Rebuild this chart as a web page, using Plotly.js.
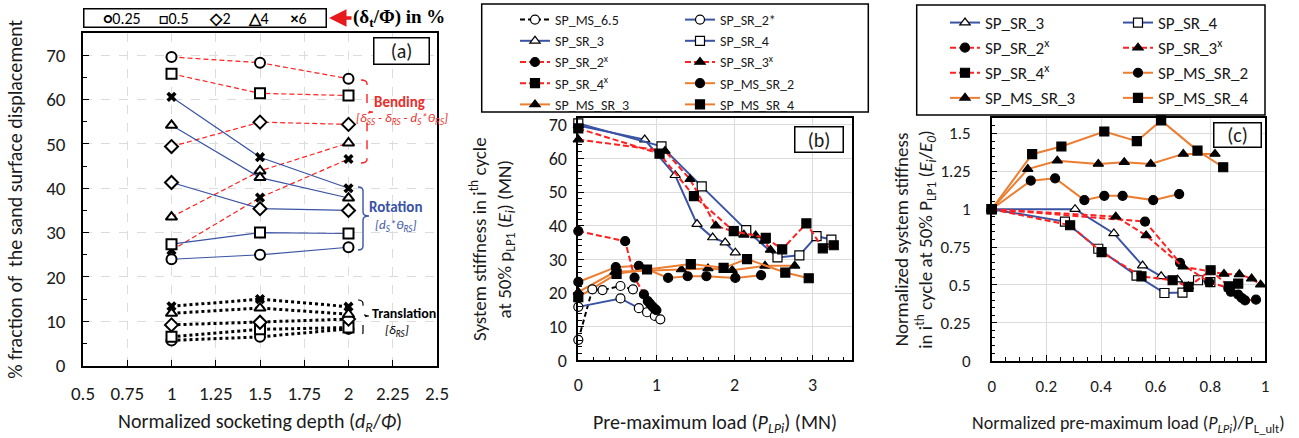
<!DOCTYPE html>
<html><head><meta charset="utf-8">
<script src="https://cdn.plot.ly/plotly-3.0.1.min.js"></script>
<style>html,body{margin:0;padding:0;background:#fff}</style>
</head><body><div id="chart" style="width:1299px;height:438px"></div>
<script>
// ---------- Panel (a) data ----------
const depth = [1, 1.5, 2];
const deltaLabels = ['0.25', '0.5', '2', '4', '6'];
const bend_025 = [69.6, 68.3, 64.7];
const bend_05  = [65.8, 61.4, 60.9];
const bend_2   = [49.4, 54.9, 54.4];
const bend_4   = [33.5, 43.9, 50.2];
const bend_6   = [26.0, 37.9, 46.6];
const rot_025 = [24.0, 25.0, 26.7];
const rot_05  = [27.4, 30.0, 29.8];
const rot_2   = [41.3, 35.4, 35.0];
const rot_4   = [54.2, 42.4, 37.8];
const rot_6   = [60.6, 47.0, 40.0];
const tr_025 = [5.7, 6.5, 8.3];
const tr_05  = [6.5, 8.2, 8.6];
const tr_2   = [9.2, 9.8, 10.5];
const tr_4   = [11.8, 13.0, 11.6];
const tr_6   = [13.4, 15.0, 13.3];

// ---------- Panel (b) data ----------
const b_ms65_x  = [0, 0.18, 0.31, 0.54, 0.70];
const b_ms65_y  = [6.1, 21.1, 20.9, 22.1, 21.1];
const b_sr2s_x  = [0, 0.54, 0.775, 0.88, 0.98, 1.05];
const b_sr2s_y  = [15.9, 18.4, 15.5, 14.3, 13.2, 12.2];
const b_sr3_x   = [0, 0.85, 1.24, 1.52, 1.72, 1.88, 2.01];
const b_sr3_y   = [69.8, 65.6, 55.0, 40.5, 36.5, 35.0, 32.0];
const b_sr4_x   = [0, 1.065, 1.58, 2.15, 2.55, 2.83, 3.05, 3.24];
const b_sr4_y   = [70.4, 63.6, 51.7, 38.7, 30.6, 31.2, 36.9, 35.9];
const b_sr2x_x  = [0, 0.60, 0.72, 0.84, 0.89, 0.92, 0.95, 0.98, 1.0];
const b_sr2x_y  = [38.4, 35.4, 24.6, 19.6, 17.6, 16.8, 16.0, 15.3, 14.9];
const b_sr3x_x  = [0, 1.11, 1.43, 1.76, 2.12, 2.27, 2.38, 2.46];
const b_sr3x_y  = [65.6, 62.2, 53.8, 40.0, 37.3, 37.1, 35.5, 32.8];
const b_sr4x_x  = [0, 1.04, 1.48, 1.99, 2.40, 2.61, 2.92, 3.13, 3.27];
const b_sr4x_y  = [68.9, 61.4, 48.8, 38.4, 36.4, 33.0, 40.7, 33.3, 34.2];
const b_mssr2_x = [0, 0.48, 0.775, 1.15, 1.40, 1.64, 2.01, 2.34];
const b_mssr2_y = [23.3, 27.7, 28.1, 24.5, 25.0, 25.0, 24.5, 25.3];
const b_mssr3_x = [0, 0.47, 1.32, 1.66, 1.97, 2.39, 2.77];
const b_mssr3_y = [20.3, 26.3, 27.0, 27.3, 26.8, 28.1, 28.1];
const b_mssr4_x = [0, 0.49, 0.88, 1.44, 1.86, 2.16, 2.65, 2.95];
const b_mssr4_y = [18.8, 25.7, 27.0, 28.6, 27.5, 30.1, 26.1, 24.4];

// ---------- Panel (c) data ----------
const c_sr3_x   = [0, 0.305, 0.447, 0.552, 0.62, 0.68, 0.72];
const c_sr3_y   = [1, 1.0, 0.84, 0.628, 0.557, 0.535, 0.49];
const c_sr4_x   = [0, 0.268, 0.39, 0.53, 0.632, 0.698, 0.755, 0.80];
const c_sr4_y   = [1, 0.918, 0.739, 0.562, 0.447, 0.45, 0.531, 0.518];
const c_sr2x_x  = [0, 0.561, 0.689, 0.796, 0.866, 0.875, 0.902, 0.915, 0.927, 0.967];
const c_sr2x_y  = [1, 0.918, 0.646, 0.518, 0.48, 0.455, 0.436, 0.414, 0.398, 0.403];
const c_sr3x_x  = [0, 0.454, 0.565, 0.70, 0.85, 0.906, 0.951, 0.984];
const c_sr3x_y  = [1, 0.951, 0.827, 0.62, 0.573, 0.57, 0.542, 0.502];
const c_sr4x_x  = [0, 0.287, 0.402, 0.548, 0.662, 0.72, 0.801, 0.868, 0.902];
const c_sr4x_y  = [1, 0.894, 0.717, 0.557, 0.531, 0.487, 0.597, 0.491, 0.509];
const c_mssr2_x = [0, 0.143, 0.232, 0.339, 0.412, 0.479, 0.591, 0.686];
const c_mssr2_y = [1, 1.188, 1.204, 1.06, 1.088, 1.088, 1.06, 1.10];
const c_mssr3_x = [0, 0.132, 0.24, 0.39, 0.485, 0.582, 0.701, 0.817];
const c_mssr3_y = [1, 1.265, 1.32, 1.299, 1.31, 1.299, 1.365, 1.365];
const c_mssr4_x = [0, 0.148, 0.255, 0.412, 0.531, 0.62, 0.753, 0.847];
const c_mssr4_y = [1, 1.363, 1.414, 1.513, 1.449, 1.586, 1.387, 1.277];

// ---------- styling ----------
const W = 1299, H = 438;
const px = x => x / W, py = y => 1 - y / H;
const FONT = 'Carlito, Lato, "Open Sans", sans-serif';
const TXT = '#1a1a1a';
const BLUE = '#3a53a4', RED = '#ff2020', ORANGE = '#ed7d31', BLACK = '#000';
const symA = ['circle', 'square', 'diamond', 'triangle-up', 'x'];

const traces = [];
// Panel (a)
const groupsA = [
  {vals: [bend_025, bend_05, bend_2, bend_4, bend_6], color: RED, dash: '5px,3px', width: 1.2},
  {vals: [rot_025, rot_05, rot_2, rot_4, rot_6], color: BLUE, dash: 'solid', width: 1.2},
  {vals: [tr_025, tr_05, tr_2, tr_4, tr_6], color: BLACK, dash: 'dot', width: 3}
];
groupsA.forEach(g => {
  g.vals.forEach((v, i) => {
    const isX = symA[i] === 'x';
    traces.push({
      type: 'scatter', mode: 'lines+markers', x: depth, y: v, xaxis: 'x', yaxis: 'y',
      name: deltaLabels[i], showlegend: false, cliponaxis: false,
      line: {color: g.color, dash: g.dash, width: g.width},
      marker: {symbol: symA[i], size: isX ? 9 : 10, color: isX ? BLACK : '#fff',
               line: {color: BLACK, width: isX ? 0 : 2}}
    });
  });
});

// Panel (b)
const seriesB = [
  {name: 'SP_MS_SR_2', x: b_mssr2_x, y: b_mssr2_y, c: ORANGE, d: 'solid', s: 'circle', f: BLACK, leg: 'legend2', rank: 4},
  {name: 'SP_MS_SR_3', x: b_mssr3_x, y: b_mssr3_y, c: ORANGE, d: 'solid', s: 'triangle-up', f: BLACK, leg: 'legend', rank: 5},
  {name: 'SP_MS_SR_4', x: b_mssr4_x, y: b_mssr4_y, c: ORANGE, d: 'solid', s: 'square', f: BLACK, leg: 'legend2', rank: 5},
  {name: 'SP_MS_6.5', x: b_ms65_x, y: b_ms65_y, c: BLACK, d: '5px,3px', s: 'circle', f: '#fff', leg: 'legend', rank: 1},
  {name: 'SP_SR_2*', x: b_sr2s_x, y: b_sr2s_y, c: BLUE, d: 'solid', s: 'circle', f: '#fff', leg: 'legend2', rank: 1},
  {name: 'SP_SR_3', x: b_sr3_x, y: b_sr3_y, c: BLUE, d: 'solid', s: 'triangle-up', f: '#fff', leg: 'legend', rank: 2},
  {name: 'SP_SR_4', x: b_sr4_x, y: b_sr4_y, c: BLUE, d: 'solid', s: 'square', f: '#fff', leg: 'legend2', rank: 2},
  {name: 'SP_SR_2<sup>x</sup>', x: b_sr2x_x, y: b_sr2x_y, c: RED, d: '6px,3px', s: 'circle', f: BLACK, leg: 'legend', rank: 3},
  {name: 'SP_SR_3<sup>x</sup>', x: b_sr3x_x, y: b_sr3x_y, c: RED, d: '6px,3px', s: 'triangle-up', f: BLACK, leg: 'legend2', rank: 3},
  {name: 'SP_SR_4<sup>x</sup>', x: b_sr4x_x, y: b_sr4x_y, c: RED, d: '6px,3px', s: 'square', f: BLACK, leg: 'legend', rank: 4}
];
seriesB.forEach(s => traces.push({
  type: 'scatter', mode: 'lines+markers', x: s.x, y: s.y, xaxis: 'x2', yaxis: 'y2', name: s.name,
  legend: s.leg, legendrank: s.rank, cliponaxis: false,
  line: {color: s.c, dash: s.d, width: 2},
  marker: {symbol: s.s, size: 9, color: s.f, line: {color: BLACK, width: 1.2}}
}));

// Panel (c)
const seriesC = [
  {name: 'SP_MS_SR_2', x: c_mssr2_x, y: c_mssr2_y, c: ORANGE, d: 'solid', s: 'circle', f: BLACK, leg: 'legend4', rank: 3},
  {name: 'SP_MS_SR_3', x: c_mssr3_x, y: c_mssr3_y, c: ORANGE, d: 'solid', s: 'triangle-up', f: BLACK, leg: 'legend3', rank: 4},
  {name: 'SP_MS_SR_4', x: c_mssr4_x, y: c_mssr4_y, c: ORANGE, d: 'solid', s: 'square', f: BLACK, leg: 'legend4', rank: 4},
  {name: 'SP_SR_3', x: c_sr3_x, y: c_sr3_y, c: BLUE, d: 'solid', s: 'triangle-up', f: '#fff', leg: 'legend3', rank: 1},
  {name: 'SP_SR_4', x: c_sr4_x, y: c_sr4_y, c: BLUE, d: 'solid', s: 'square', f: '#fff', leg: 'legend4', rank: 1},
  {name: 'SP_SR_2<sup>x</sup>', x: c_sr2x_x, y: c_sr2x_y, c: RED, d: '6px,3px', s: 'circle', f: BLACK, leg: 'legend3', rank: 2},
  {name: 'SP_SR_3<sup>x</sup>', x: c_sr3x_x, y: c_sr3x_y, c: RED, d: '6px,3px', s: 'triangle-up', f: BLACK, leg: 'legend4', rank: 2},
  {name: 'SP_SR_4<sup>x</sup>', x: c_sr4x_x, y: c_sr4x_y, c: RED, d: '6px,3px', s: 'square', f: BLACK, leg: 'legend3', rank: 3}
];
seriesC.forEach(s => traces.push({
  type: 'scatter', mode: 'lines+markers', x: s.x, y: s.y, xaxis: 'x3', yaxis: 'y3', name: s.name,
  legend: s.leg, legendrank: s.rank, cliponaxis: false,
  line: {color: s.c, dash: s.d, width: 2},
  marker: {symbol: s.s, size: 9, color: s.f, line: {color: BLACK, width: 1.2}}
}));

// ---------- axes ----------
function ax(extra) {
  return Object.assign({
    showline: true, mirror: true, linecolor: BLACK, linewidth: 1.5,
    ticks: 'inside', ticklen: 6, tickwidth: 1, tickcolor: BLACK,
    zeroline: false, showgrid: true, gridcolor: '#dcdcdc', gridwidth: 1,
    tickfont: {family: FONT, size: 19, color: TXT}, automargin: false
  }, extra);
}
const minorT = d => ({dtick: d, ticks: 'inside', ticklen: 4, tickcolor: BLACK, showgrid: false});

function bracePath(xL, xR, xT, yT, yB, yM) {
  const r = 4, P = (x, y) => px(x).toFixed(5) + ',' + py(y).toFixed(5);
  return 'M' + P(xL, yT) + ' Q' + P(xR, yT) + ' ' + P(xR, yT + r) + ' L' + P(xR, yM - r) +
    ' Q' + P(xR, yM) + ' ' + P(xT, yM) + ' Q' + P(xR, yM) + ' ' + P(xR, yM + r) +
    ' L' + P(xR, yB - r) + ' Q' + P(xR, yB) + ' ' + P(xL, yB);
}

const tf = s => ({family: FONT, size: s, color: TXT});
const legBase = {bgcolor: 'rgba(0,0,0,0)', borderwidth: 0, xanchor: 'left', yanchor: 'top', tracegroupgap: 0, traceorder: 'normal'};
const nb = '\u00a0';
const note = (x, y, text, font, extra) => Object.assign({xref: 'paper', yref: 'paper', x: px(x), y: py(y),
  xanchor: 'center', yanchor: 'middle', showarrow: false, text: text, font: font}, extra || {});

const layout = {
  width: W, height: H, margin: {l: 0, r: 0, t: 0, b: 0},
  paper_bgcolor: '#fff', plot_bgcolor: '#fff', showlegend: true,
  font: {family: FONT, color: TXT},
  xaxis: ax({domain: [px(83), px(437)], anchor: 'y', range: [0.5, 2.5], dtick: 0.25, griddash: 'dash',
    ticklabelstandoff: 10,
    title: {text: 'Normalized socketing depth (<i>d<sub>R</sub></i>/<i>Φ</i>)', font: tf(20), standoff: 10}}),
  yaxis: ax({domain: [py(365.7), py(33)], anchor: 'x', range: [0, 75], dtick: 10, griddash: 'dash',
    ticklabelstandoff: 12, minor: minorT(5),
    title: {text: '% fraction of  the sand surface displacement', font: tf(20), standoff: 18}}),
  xaxis2: ax({domain: [px(578.3), px(851.7)], anchor: 'y2', range: [0, 3.5], dtick: 1,
    ticklabelstandoff: 7, minor: minorT(0.2), tickfont: tf(18),
    title: {text: 'Pre-maximum load (<i>P<sub>LPi</sub></i>) (MN)', font: tf(20), standoff: 20}}),
  yaxis2: ax({domain: [py(360.4), py(118)], anchor: 'x2', range: [0, 72], dtick: 10,
    ticklabelstandoff: 6, minor: minorT(2), tickfont: tf(18),
    title: {text: 'System stiffness in i<sup>th</sup> cycle<br>at 50% p<sub>LP1</sub> (<i>E<sub>i</sub></i>) (MN)', font: tf(19), standoff: 32}}),
  xaxis3: ax({domain: [px(991.7), px(1265)], anchor: 'y3', range: [0, 1], dtick: 0.2,
    ticklabelstandoff: 9, minor: minorT(0.05), tickfont: tf(17),
    title: {text: 'Normalized pre-maximum load (<i>P<sub>LPi</sub></i>)/P<sub>L_ult</sub>)', font: tf(18), standoff: 21}}),
  yaxis3: ax({domain: [py(360.7), py(118.3)], anchor: 'x3', range: [0, 1.6], dtick: 0.25,
    ticklabelstandoff: 16, minor: minorT(0.05), tickfont: tf(17),
    title: {text: 'Normalized system stiffness<br>in i<sup>th</sup> cycle at 50% P<sub>LP1</sub> (<i>E<sub>i</sub></i>/<i>E<sub>0</sub></i>)', font: tf(19), standoff: 1}}),
  legend:  Object.assign({}, legBase, {x: px(515), y: py(4), font: tf(14)}),
  legend2: Object.assign({}, legBase, {x: px(680), y: py(4), font: tf(14)}),
  legend3: Object.assign({}, legBase, {x: px(945), y: py(5), font: tf(17)}),
  legend4: Object.assign({}, legBase, {x: px(1118), y: py(5), font: tf(17)}),
  shapes: [
    {type: 'rect', xref: 'paper', yref: 'paper', x0: px(481.7), x1: px(868.3), y0: py(112), y1: py(4), line: {color: BLACK, width: 1.5}},
    {type: 'rect', xref: 'paper', yref: 'paper', x0: px(916.7), x1: px(1265), y0: py(115), y1: py(5), line: {color: BLACK, width: 1.5}},
    {type: 'path', xref: 'paper', yref: 'paper', path: bracePath(361, 367, 373, 80, 163, 112), line: {color: RED, width: 1.4, dash: 'dash'}},
    {type: 'path', xref: 'paper', yref: 'paper', path: bracePath(358, 363, 369, 187, 250, 216), line: {color: BLUE, width: 1.4}},
    {type: 'path', xref: 'paper', yref: 'paper', path: bracePath(358, 363, 369, 300, 336, 316), line: {color: BLACK, width: 1.2, dash: 'dash'}}
  ],
  annotations: [
    note(205, 18, '<b>○</b>0.25' + nb.repeat(5) + '<b>□</b>0.5' + nb.repeat(6) + '<b>◇</b>2' + nb.repeat(5) + '<b>△</b>4' + nb.repeat(6) + '<b>×</b>6',
      {family: FONT, size: 16, color: BLACK}, {bordercolor: BLACK, borderwidth: 1.5, width: 241, height: 17, borderpad: 0, bgcolor: '#fff'}),
    {xref: 'paper', yref: 'paper', x: px(329), y: py(18), ax: 70, ay: 0, showarrow: true, arrowhead: 2, arrowsize: 1, arrowwidth: 3.5, arrowcolor: '#e8191c', standoff: 0,
     text: '<b>(δ<sub>t</sub>/Φ) in %</b>', font: {family: '"Liberation Serif", serif', size: 19, color: BLACK}},
    note(401.5, 51, '(a)', tf(20), {bordercolor: BLACK, borderwidth: 1.5, width: 54, height: 25, borderpad: 0, bgcolor: '#fff'}),
    note(819, 139.5, '(b)', tf(20), {bordercolor: BLACK, borderwidth: 1.5, width: 47, height: 24, borderpad: 0, bgcolor: '#fff'}),
    note(1237.5, 135, '(c)', tf(20), {bordercolor: BLACK, borderwidth: 1.5, width: 46, height: 23, borderpad: 0, bgcolor: '#fff'}),
    note(399, 102, '<b>Bending</b>', {family: FONT, size: 15, color: '#e8302a'}),
    note(402, 118, '<i>[δ<sub>SS</sub> - δ<sub>RS</sub> - d<sub>S</sub>*θ<sub>RS</sub>]</i>', {family: FONT, size: 13, color: '#e8302a'}),
    note(395, 207, '<b>Rotation</b>', {family: FONT, size: 15, color: BLUE}),
    note(395, 225, '<i>[d<sub>S</sub>*θ<sub>RS</sub>]</i>', {family: FONT, size: 13, color: BLUE}),
    note(404, 313, '<b>Translation</b>', {family: FONT, size: 14, color: BLACK}),
    note(397, 330, '<i>[δ<sub>RS</sub>]</i>', {family: FONT, size: 13, color: BLACK})
  ]
};

Plotly.newPlot('chart', traces, layout, {displayModeBar: false});
</script></body></html>
